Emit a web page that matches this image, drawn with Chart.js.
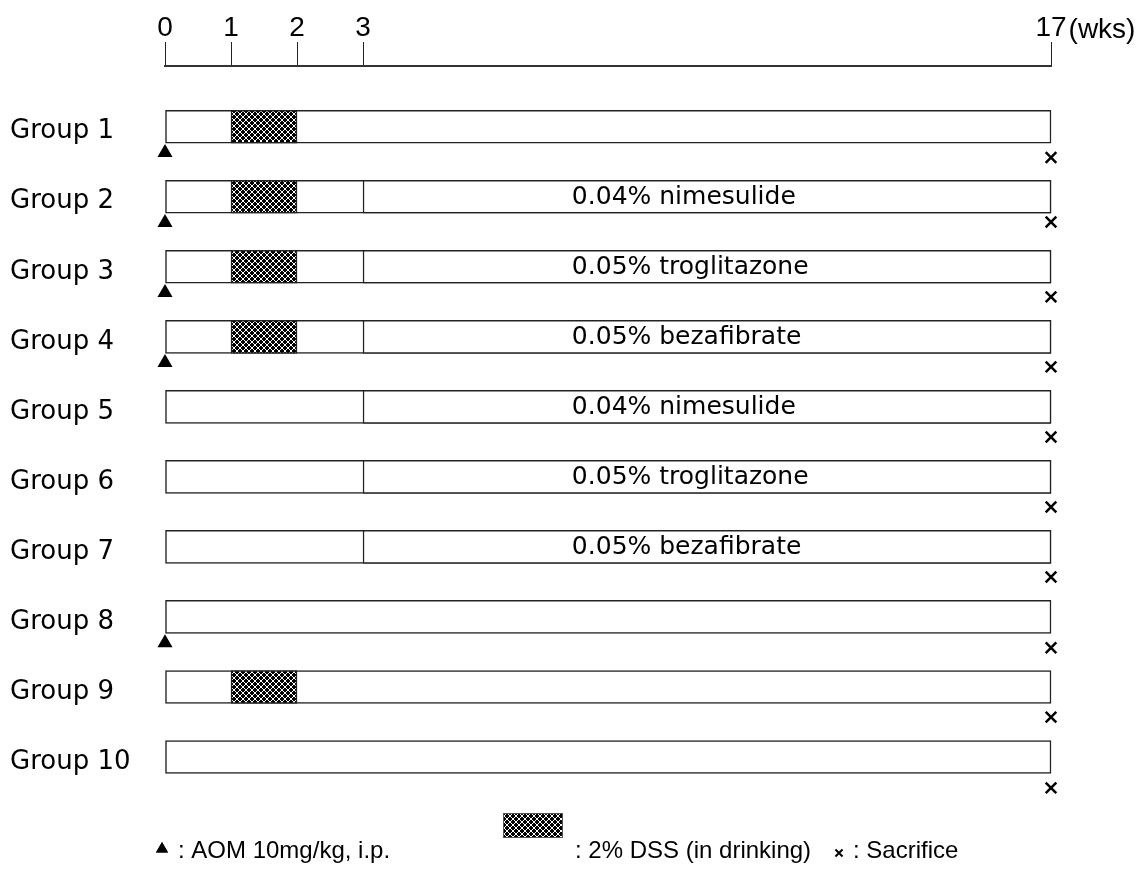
<!DOCTYPE html>
<html>
<head>
<meta charset="utf-8">
<script src="https://cdn.jsdelivr.net/npm/chart.js@4.4.1/dist/chart.umd.min.js"></script>
<style>
  html, body { margin: 0; padding: 0; background: #fff; }
  #wrap { width: 1139px; height: 886px; }
</style>
</head>
<body>
<div id="wrap"><canvas id="protocolChart"></canvas></div>
<script>
// Experimental protocol: 10 groups, weeks 0-17

const groups = ['Group 1', 'Group 2', 'Group 3', 'Group 4', 'Group 5',
                'Group 6', 'Group 7', 'Group 8', 'Group 9', 'Group 10'];
const groupRows = [1, 2, 3, 4, 5, 6, 7, 8, 9, 10];
const weekTicks = [0, 1, 2, 3, 17];

// whole study period (every group)
const studySpan = [0, 17];

// 2% DSS in drinking water, weeks 1-2
const dssGroups = [1, 2, 3, 4, 9];
const dssSpan = [1, 2];

// test diet from week 3 to the end
const dietGroups = [2, 3, 4, 5, 6, 7];
const dietLabels = ['0.04% nimesulide', '0.05% troglitazone', '0.05% bezafibrate',
                    '0.04% nimesulide', '0.05% troglitazone', '0.05% bezafibrate'];
const dietSpan = [3, 17];
const dietLabelWeek = 7.25;

// AOM injection at week 0 (marker sits just under the bar)
const aomWeek = 0;
const aomRows = [1.37, 2.37, 3.37, 4.37, 8.37];

// sacrifice at week 17
const sacrificeWeek = 17;
const sacrificeRows = [1.44, 2.36, 3.43, 4.43, 5.43, 6.43, 7.43, 8.44, 9.43, 10.44];

// the axis is drawn wider for weeks 0-3 than for 3-17
const axisBreakWeek = 3;
const axisBreakShare = 0.2235;

const legendItems = [
  { marker: 'triangle', text: ': AOM 10mg/kg, i.p.' },
  { marker: 'pattern',  text: ': 2% DSS (in drinking)' },
  { marker: 'crossRot', text: ': Sacrifice' }
];

const SANS = "'Liberation Sans', Arial, Helvetica, sans-serif";
const WIDE = "'DejaVu Sans', Verdana, sans-serif";

// crosshatch used for the DSS period
function makeHatch() {
  const c = document.createElement('canvas');
  c.width = 6; c.height = 6;
  const g = c.getContext('2d');
  g.fillStyle = '#000';
  g.fillRect(0, 0, 6, 6);
  g.strokeStyle = '#fff';
  g.lineWidth = 1;
  g.beginPath();
  g.moveTo(0, 0); g.lineTo(6, 6);
  g.moveTo(6, 0); g.lineTo(0, 6);
  g.stroke();
  return document.createElement('canvas').getContext('2d').createPattern(c, 'repeat');
}
const hatch = makeHatch();

// linear scale with two segments
class PiecewiseScale extends Chart.LinearScale {
  toDecimal(v) {
    if (v <= axisBreakWeek) {
      return (v - this.min) / (axisBreakWeek - this.min) * axisBreakShare;
    }
    return axisBreakShare + (v - axisBreakWeek) / (this.max - axisBreakWeek) * (1 - axisBreakShare);
  }
  getPixelForValue(value) {
    if (value === null || value === undefined || isNaN(value)) return NaN;
    return this.getPixelForDecimal(this.toDecimal(value));
  }
  getValueForPixel(pixel) {
    const d = this.getDecimalForPixel(pixel);
    if (d <= axisBreakShare) {
      return this.min + d / axisBreakShare * (axisBreakWeek - this.min);
    }
    return axisBreakWeek + (d - axisBreakShare) / (1 - axisBreakShare) * (this.max - axisBreakWeek);
  }
}
PiecewiseScale.id = 'piecewise';
PiecewiseScale.defaults = Chart.LinearScale.defaults;
Chart.register(PiecewiseScale);

const dietLabelPlugin = {
  id: 'dietLabels',
  afterDatasetsDraw(chart) {
    const meta = chart.getDatasetMeta(1);
    const ctx = chart.ctx;
    const x = chart.scales.x.getPixelForValue(dietLabelWeek);
    ctx.save();
    ctx.font = '25px ' + WIDE;
    ctx.fillStyle = '#000';
    ctx.textAlign = 'left';
    ctx.textBaseline = 'middle';
    meta.data.forEach((bar, i) => {
      ctx.fillText(dietLabels[i], x, bar.y + 1);
    });
    ctx.restore();
  }
};

const unitAndLegendPlugin = {
  id: 'unitAndLegend',
  afterDraw(chart) {
    const ctx = chart.ctx;
    const xs = chart.scales.x;
    ctx.save();
    ctx.fillStyle = '#000';
    ctx.textBaseline = 'alphabetic';

    // unit next to the last tick
    ctx.font = '28px ' + SANS;
    const half = ctx.measureText('17').width / 2;
    ctx.fillText('(wks)', xs.getPixelForValue(17) + half + 2, 38);

    // legend row
    ctx.font = '24px ' + SANS;
    const baseline = 858;
    const slots = [
      { mx: 162, tx: 178 },
      { mx: 503, tx: 575 },
      { mx: 839, tx: 853 }
    ];
    legendItems.forEach((item, i) => {
      const s = slots[i];
      if (item.marker === 'pattern') {
        ctx.fillStyle = hatch;
        ctx.fillRect(s.mx, 813, 60, 25);
        ctx.strokeStyle = '#555';
        ctx.lineWidth = 1;
        ctx.strokeRect(s.mx + 0.5, 813.5, 59, 24);
      } else if (item.marker === 'triangle') {
        Chart.helpers.drawPoint(ctx, { pointStyle: 'triangle', radius: 7, borderWidth: 0 }, s.mx, 849);
        ctx.fillStyle = '#000';
        ctx.fill();
      } else {
        ctx.strokeStyle = '#000';
        ctx.lineWidth = 2;
        Chart.helpers.drawPoint(ctx, { pointStyle: 'crossRot', radius: 5, borderWidth: 2 }, s.mx, 853);
      }
      ctx.fillStyle = '#000';
      ctx.fillText(item.text, s.tx, baseline);
    });
    ctx.restore();
  }
};

Chart.defaults.font.family = SANS;
Chart.defaults.color = '#000';

const ctx = document.getElementById('protocolChart').getContext('2d');
new Chart(ctx, {
  type: 'bar',
  data: {
    datasets: [
      {
        type: 'bar',
        label: 'DSS',
        data: dssGroups.map(g => ({ x: dssSpan, y: g })),
        backgroundColor: hatch,
        borderColor: '#222',
        borderWidth: 1.5,
        borderSkipped: false,
        barThickness: 33,
        grouped: false,
        clip: false,
        order: 1
      },
      {
        type: 'bar',
        label: 'Diet',
        data: dietGroups.map(g => ({ x: dietSpan, y: g })),
        backgroundColor: '#fff',
        borderColor: '#222',
        borderWidth: 1.5,
        borderSkipped: false,
        barThickness: 33,
        grouped: false,
        clip: false,
        order: 2
      },
      {
        type: 'bar',
        label: 'Study',
        data: groupRows.map(g => ({ x: studySpan, y: g })),
        backgroundColor: '#fff',
        borderColor: '#222',
        borderWidth: 1.5,
        borderSkipped: false,
        barThickness: 33,
        grouped: false,
        clip: false,
        order: 3
      },
      {
        type: 'scatter',
        label: 'AOM',
        data: aomRows.map(r => ({ x: aomWeek, y: r })),
        pointStyle: 'triangle',
        pointRadius: 8.7,
        pointBorderWidth: 0,
        backgroundColor: '#000',
        borderColor: '#000',
        clip: false,
        order: 0
      },
      {
        type: 'scatter',
        label: 'Sacrifice',
        data: sacrificeRows.map(r => ({ x: sacrificeWeek, y: r })),
        pointStyle: 'crossRot',
        pointRadius: 7.5,
        pointBorderWidth: 2.5,
        backgroundColor: '#000',
        borderColor: '#000',
        clip: false,
        order: 0
      }
    ]
  },
  options: {
    indexAxis: 'y',
    responsive: true,
    maintainAspectRatio: false,
    animation: false,
    events: [],
    layout: { padding: { left: 10, right: 88, top: 0, bottom: 86 } },
    plugins: {
      legend: { display: false },
      tooltip: { enabled: false }
    },
    scales: {
      x: {
        type: 'piecewise',
        position: 'top',
        min: 0,
        max: 17,
        afterBuildTicks: s => { s.ticks = weekTicks.map(v => ({ value: v })); },
        afterFit: s => { s.height = 66; },
        grid: {
          drawOnChartArea: false,
          drawTicks: true,
          tickLength: 24,
          color: '#222',
          lineWidth: 1
        },
        border: { display: true, color: '#333', width: 2 },
        ticks: {
          autoSkip: false,
          maxRotation: 0,
          padding: -2,
          font: { size: 28, lineHeight: 1.1 },
          callback: v => String(v)
        }
      },
      y: {
        type: 'linear',
        reverse: true,
        offset: false,
        min: 0.133,
        max: 10.614,
        afterBuildTicks: s => { s.ticks = groupRows.map(v => ({ value: v })); },
        afterFit: s => { s.width = 155; },
        grid: { display: false },
        border: { display: false },
        ticks: {
          crossAlign: 'far',
          labelOffset: 5,
          font: { family: WIDE, size: 26 },
          callback: v => groups[v - 1]
        }
      }
    }
  },
  plugins: [dietLabelPlugin, unitAndLegendPlugin]
});
</script>
</body>
</html>
